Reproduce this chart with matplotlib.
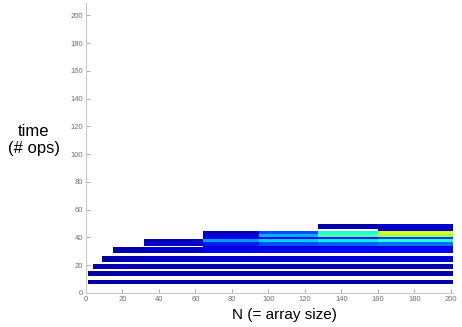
import numpy as np
import matplotlib
matplotlib.use("Agg")
import matplotlib.pyplot as plt

plt.rcParams['font.family'] = ['Liberation Sans', 'DejaVu Sans']

# N bin edges (array size) and time bin edges (# ops)
n_edges = [1, 4, 9, 15, 32, 64, 95, 127, 160, 201]
t_edges = [6.5, 9.5, 12.5, 15.5, 17.5, 21, 22.5, 27, 28.5, 33, 34,
           36.5, 39, 40, 42.5, 45, 46, 49.5]

# density level per (time row, N column), 0 = empty
density = [
    [0.03, 0.03, 0.03, 0.03, 0.03, 0.03, 0.03, 0.03, 0.03],
    [0, 0, 0, 0, 0, 0, 0, 0, 0],
    [0.03, 0.03, 0.03, 0.04, 0.04, 0.04, 0.04, 0.04, 0.04],
    [0, 0, 0, 0, 0, 0, 0, 0, 0],
    [0, 0.03, 0.04, 0.05, 0.05, 0.05, 0.05, 0.05, 0.05],
    [0, 0, 0, 0, 0, 0, 0, 0, 0],
    [0, 0, 0.03, 0.05, 0.06, 0.07, 0.07, 0.08, 0.08],
    [0, 0, 0, 0, 0, 0, 0, 0, 0],
    [0, 0, 0, 0.04, 0.06, 0.09, 0.1, 0.11, 0.12],
    [0, 0, 0, 0, 0, 0.04, 0.05, 0.06, 0.06],
    [0, 0, 0, 0, 0.06, 0.15, 0.2, 0.22, 0.24],
    [0, 0, 0, 0, 0.05, 0.28, 0.33, 0.36, 0.4],
    [0, 0, 0, 0, 0, 0.1, 0.13, 0.15, 0.18],
    [0, 0, 0, 0, 0, 0.08, 0.3, 0.45, 0.55],
    [0, 0, 0, 0, 0, 0.05, 0.2, 0.38, 0.62],
    [0, 0, 0, 0, 0, 0, 0, 0, 0.06],
    [0, 0, 0, 0, 0, 0, 0, 0.04, 0.07],
]

x_ticks = [0, 20, 40, 60, 80, 100, 120, 140, 160, 180, 200]
y_ticks = [0, 20, 40, 60, 80, 100, 120, 140, 160, 180, 200]

fig = plt.figure(figsize=(4.62, 3.27), dpi=100)
ax = fig.add_axes([0.186, 0.104, 0.794, 0.887])

vals = np.ma.masked_equal(np.array(density), 0)
ax.pcolormesh(n_edges, t_edges, vals, cmap='jet', vmin=0, vmax=1)

ax.set_xlim(0, 201)
ax.set_ylim(0, 209)
ax.set_xticks(x_ticks)
ax.set_yticks(y_ticks)
for s in ['top', 'right']:
    ax.spines[s].set_visible(False)
for s in ['left', 'bottom']:
    ax.spines[s].set_color('#c8c8c8')
    ax.spines[s].set_linewidth(0.8)
ax.tick_params(direction='in', length=3, width=0.6, color='#a0a0a0',
               labelsize=5.5, labelcolor='#707070', pad=2)

fig.text(284 / 462, 1 - 315 / 327, 'N (= array size)', ha='center',
         va='center', fontsize=11)
fig.text(34 / 462, 1 - 132 / 327, 'time', ha='center',
         va='center', fontsize=12)
fig.text(34 / 462, 1 - 148 / 327, '(# ops)', ha='center',
         va='center', fontsize=12)

fig.savefig('out.png', dpi=100)
